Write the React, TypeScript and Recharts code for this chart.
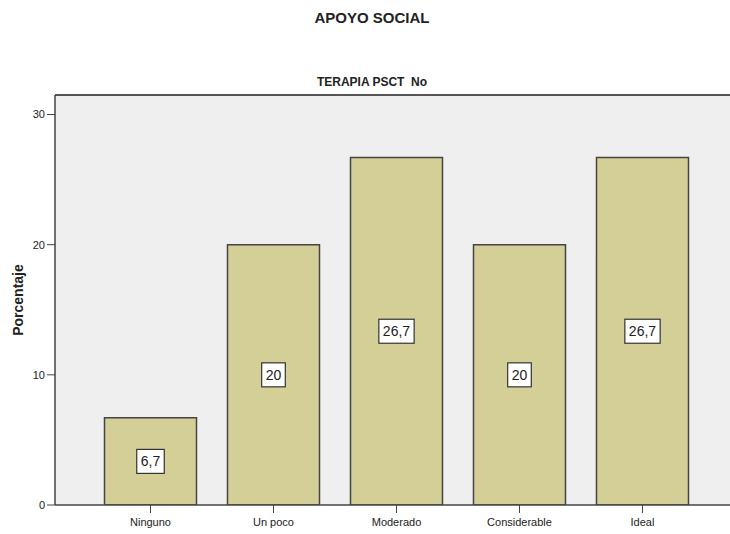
import { BarChart, Bar, XAxis, YAxis, CartesianGrid, ReferenceLine, LabelList } from "recharts";

const categories = ["Ninguno", "Un poco", "Moderado", "Considerable", "Ideal"];
const percentages = [6.7, 20, 26.7, 20, 26.7];
const valueLabels = ["6,7", "20", "26,7", "20", "26,7"];
const yTicks = [0, 10, 20, 30];

const data = categories.map((name, i) => ({
  name,
  value: percentages[i],
  label: valueLabels[i],
}));

const FONT = "'Liberation Sans', Arial, sans-serif";

function BoxLabel(props: any) {
  const { x, y, width, height, value } = props;
  const text = String(value);
  const w = text.length * 7.8 - (text.includes(",") ? 3.9 : 0) + 8;
  const h = 24;
  const cx = x + width / 2;
  const cy = y + height / 2;
  return (
    <g>
      <rect x={cx - w / 2} y={cy - h / 2} width={w} height={h} fill="#ffffff" stroke="#333333" strokeWidth={1.2} />
      <text x={cx} y={cy + 5} textAnchor="middle" fontSize={14} fontFamily={FONT} fill="#222222">
        {text}
      </text>
    </g>
  );
}

export default function App() {
  return (
    <div style={{ position: "absolute", left: 0, top: 0, width: 730, height: 534, background: "#fff", overflow: "hidden", fontFamily: FONT }}>
      <div style={{ position: "absolute", left: 0, width: 744, top: 9, textAlign: "center", fontSize: 15, fontWeight: "bold", color: "#222" }}>
        APOYO SOCIAL
      </div>
      <div style={{ position: "absolute", left: 0, width: 744, top: 75, textAlign: "center", fontSize: 12, fontWeight: "bold", color: "#222", whiteSpace: "pre" }}>
        {"TERAPIA PSCT  No"}
      </div>
      <div
        style={{
          position: "absolute",
          left: 18,
          top: 300,
          transform: "translate(-50%, -50%) rotate(-90deg)",
          fontSize: 14,
          fontWeight: "bold",
          color: "#222",
        }}
      >
        Porcentaje
      </div>
      <BarChart
        width={730}
        height={534}
        data={data}
        margin={{ top: 95, right: 0, left: 0, bottom: 0 }}
        barCategoryGap="12.6%"
      >
        <CartesianGrid horizontal={false} vertical={false} fill="#efefef" />
        <ReferenceLine y={31.5} stroke="#555555" strokeWidth={2} />
        <XAxis
          dataKey="name"
          padding={{ left: 34, right: 26 }}
          axisLine={{ stroke: "#444444", strokeWidth: 1.5 }}
          tickLine={{ stroke: "#444444" }}
          tickSize={8}
          tickMargin={5}
          tick={{ fontSize: 11, fill: "#222222", fontFamily: FONT }}
          height={29}
          interval={0}
        />
        <YAxis
          domain={[0, 31.5]}
          ticks={yTicks}
          width={55}
          axisLine={{ stroke: "#444444", strokeWidth: 1.5 }}
          tickLine={{ stroke: "#444444" }}
          tickSize={8}
          tickMargin={2}
          tick={{ fontSize: 11, fill: "#222222", fontFamily: FONT }}
          allowDataOverflow
        />
        <Bar dataKey="value" fill="#d3cf97" stroke="#444444" strokeWidth={1.5} isAnimationActive={false}>
          <LabelList dataKey="label" content={BoxLabel} />
        </Bar>
      </BarChart>
    </div>
  );
}
